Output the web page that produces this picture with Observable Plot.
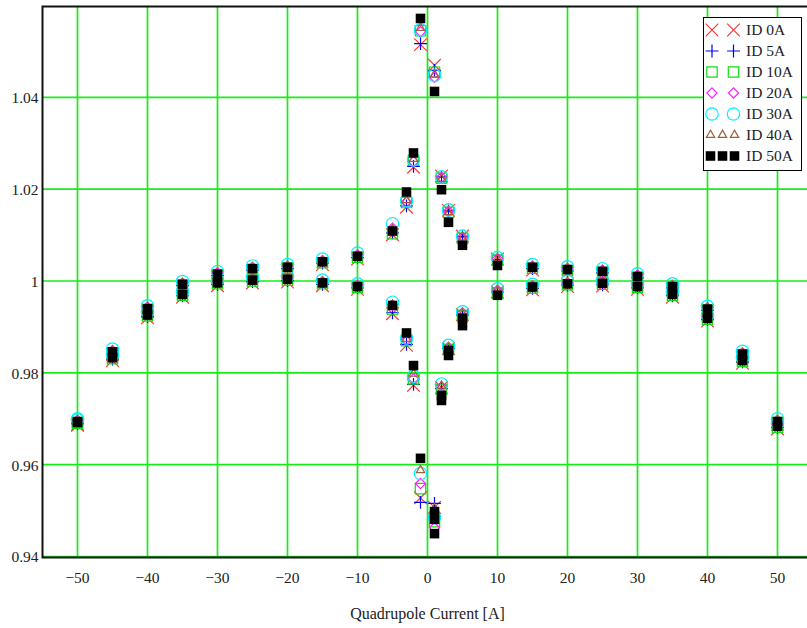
<!DOCTYPE html>
<html>
<head>
<meta charset="utf-8">
<script src="https://cdn.jsdelivr.net/npm/d3@7"></script>
<script src="https://cdn.jsdelivr.net/npm/@observablehq/plot@0.6"></script>
<style>
  html, body { margin: 0; padding: 0; background: #fff; overflow: hidden; }
  #chart { position: relative; width: 807px; height: 628px; overflow: hidden; }
  #chart > svg { max-width: none !important; display: block; }
  #legend { position: absolute; left: 703px; top: 17px; width: 99px; height: 154px; box-sizing: border-box;
            border: 1px solid #000; background: #fff; }
</style>
</head>
<body>
<div id="chart"></div>
<script>
// Quadrupole current settings [A]
const current = [-50, -45, -40, -35, -30, -25, -20, -15, -10, -5, -3, -2, -1, 1, 2, 3, 5, 10, 15, 20, 25, 30, 35, 40, 45, 50];

// Relative values, upper and lower branch, for each ID setting
const upper0A  = [0.9690,0.9842,0.9936,0.9989,1.0011,1.0023,1.0026,1.0038,1.0050,1.0103,1.0163,1.0250,1.0517,1.0472,1.0231,1.0156,1.0100,1.0050,1.0026,1.0021,1.0017,1.0006,0.9984,0.9935,0.9837,0.9690];
const lower0A  = [0.9688,0.9829,0.9922,0.9967,0.9992,0.9998,1.0000,0.9992,0.9984,0.9931,0.9862,0.9775,0.9530,0.9509,0.9770,0.9855,0.9929,0.9978,0.9983,0.9990,0.9991,0.9984,0.9967,0.9915,0.9823,0.9680];
const upper5A  = [0.9693,0.9845,0.9939,0.9992,1.0014,1.0026,1.0029,1.0041,1.0053,1.0107,1.0166,1.0252,1.0519,1.0461,1.0229,1.0155,1.0099,1.0049,1.0029,1.0024,1.0020,1.0009,0.9987,0.9938,0.9840,0.9693];
const lower5A  = [0.9691,0.9832,0.9925,0.9970,0.9995,1.0001,1.0003,0.9995,0.9987,0.9933,0.9864,0.9777,0.9520,0.9518,0.9768,0.9855,0.9928,0.9978,0.9986,0.9993,0.9994,0.9987,0.9970,0.9918,0.9826,0.9683];
const upper10A = [0.9694,0.9846,0.9940,0.9993,1.0015,1.0027,1.0030,1.0042,1.0054,1.0105,1.0173,1.0265,1.0547,1.0457,1.0226,1.0152,1.0095,1.0048,1.0030,1.0025,1.0021,1.0010,0.9988,0.9939,0.9841,0.9694];
const lower10A = [0.9692,0.9833,0.9926,0.9971,0.9996,1.0002,1.0004,0.9996,0.9988,0.9940,0.9872,0.9789,0.9550,0.9478,0.9766,0.9853,0.9927,0.9976,0.9987,0.9994,0.9995,0.9988,0.9971,0.9919,0.9827,0.9684];
const upper20A = [0.9699,0.9851,0.9945,0.9998,1.0020,1.0032,1.0035,1.0047,1.0059,1.0117,1.0174,1.0262,1.0545,1.0446,1.0228,1.0154,1.0098,1.0051,1.0035,1.0030,1.0026,1.0015,0.9993,0.9944,0.9846,0.9699];
const lower20A = [0.9697,0.9838,0.9931,0.9976,1.0001,1.0007,1.0009,1.0001,0.9993,0.9950,0.9873,0.9789,0.9561,0.9465,0.9772,0.9858,0.9933,0.9982,0.9992,0.9999,1.0000,0.9993,0.9976,0.9924,0.9832,0.9689];
const upper30A = [0.9702,0.9854,0.9948,1.0001,1.0023,1.0035,1.0038,1.0050,1.0063,1.0127,1.0177,1.0266,1.0549,1.0450,1.0229,1.0157,1.0100,1.0053,1.0038,1.0033,1.0029,1.0018,0.9996,0.9947,0.9849,0.9702];
const lower30A = [0.9700,0.9841,0.9934,0.9979,1.0004,1.0010,1.0012,1.0004,0.9996,0.9956,0.9878,0.9795,0.9583,0.9487,0.9778,0.9862,0.9935,0.9985,0.9995,1.0002,1.0003,0.9996,0.9979,0.9927,0.9835,0.9692];
const upper40A = [0.9698,0.9850,0.9944,0.9997,1.0019,1.0031,1.0034,1.0046,1.0058,1.0115,1.0178,1.0268,1.0553,1.0452,1.0224,1.0152,1.0097,1.0050,1.0034,1.0029,1.0025,1.0014,0.9992,0.9943,0.9845,0.9698];
const lower40A = [0.9696,0.9837,0.9930,0.9975,1.0000,1.0006,1.0008,1.0000,0.9992,0.9950,0.9876,0.9800,0.9590,0.9507,0.9774,0.9857,0.9931,0.9981,0.9991,0.9998,0.9999,0.9992,0.9975,0.9923,0.9831,0.9688];
const upper50A = [0.9696,0.9848,0.9942,0.9995,1.0017,1.0029,1.0032,1.0044,1.0056,1.0111,1.0196,1.0281,1.0574,1.0415,1.0201,1.0130,1.0080,1.0036,1.0032,1.0027,1.0023,1.0012,0.9990,0.9941,0.9843,0.9696];
const lower50A = [0.9694,0.9835,0.9928,0.9973,0.9998,1.0004,1.0006,0.9998,0.9990,0.9949,0.9889,0.9818,0.9616,0.9452,0.9742,0.9840,0.9905,0.9971,0.9989,0.9996,0.9997,0.9990,0.9973,0.9921,0.9829,0.9686];
// Repeated readings at ID 50A
const repeat50ACurrent = [1, 1, 2, 3, 5];
const repeat50AValue   = [0.9500, 0.9483, 0.9753, 0.9851, 0.9921];

// Series labels and axis ticks
const seriesLabels = ["ID 0A", "ID 5A", "ID 10A", "ID 20A", "ID 30A", "ID 40A", "ID 50A"];
const xTicks = [-50, -40, -30, -20, -10, 0, 10, 20, 30, 40, 50];
const xTickLabels = ["\u221250", "\u221240", "\u221230", "\u221220", "\u221210", "0", "10", "20", "30", "40", "50"];
const yTicks = [0.94, 0.96, 0.98, 1, 1.02, 1.04];
const yTickLabels = ["0.94", "0.96", "0.98", "1", "1.02", "1.04"];
const xLabel = "Quadrupole Current [A]";

// Marker styles per series
const styles = [
  {symbol: "times",     r: 5.8, stroke: "#ff3535", fill: "none", legendCount: 2},
  {symbol: "plus",      r: 4.2, stroke: "#0000ff", fill: "none", legendCount: 2},
  {symbol: "square2",   r: 6.6, stroke: "#10dd10", fill: "none", legendCount: 2},
  {symbol: "diamond2",  r: 4.6, stroke: "#ff20ff", fill: "none", legendCount: 2},
  {symbol: "circle",    r: 6.2, stroke: "#00f0ff", fill: "none", legendCount: 2},
  {symbol: "triangle2", r: 4.0, stroke: "#a0603c", fill: "none", legendCount: 3},
  {symbol: "square",    r: 5.4, stroke: "none",    fill: "#000000", legendCount: 3}
];

const branches = [[upper0A, lower0A], [upper5A, lower5A], [upper10A, lower10A], [upper20A, lower20A],
                  [upper30A, lower30A], [upper40A, lower40A], [upper50A, lower50A]];

const seriesRows = branches.map(([up, lo], i) => {
  const rows = [];
  current.forEach((c, j) => {
    rows.push({series: seriesLabels[i], current: c, value: up[j]});
    rows.push({series: seriesLabels[i], current: c, value: lo[j]});
  });
  if (i === 6) repeat50ACurrent.forEach((c, j) => rows.push({series: seriesLabels[i], current: c, value: repeat50AValue[j]}));
  return rows;
});

const gridColor = "#14ee14";

const plot = Plot.plot({
  width: 812,
  height: 628,
  marginLeft: 42,
  marginRight: 0,
  marginTop: 6,
  marginBottom: 71,
  style: {fontFamily: "'Liberation Serif', 'Times New Roman', serif", fontSize: "15px", background: "#fff", color: "#222", maxWidth: "none"},
  x: {domain: [-55, 55], label: null},
  y: {domain: [0.94, 1.06], label: null},
  marks: [
    Plot.gridX(xTicks, {stroke: gridColor, strokeOpacity: 1, strokeWidth: 1.7}),
    Plot.gridY(yTicks, {stroke: gridColor, strokeOpacity: 1, strokeWidth: 1.7, dy: -1}),
    Plot.frame({stroke: "#111", strokeWidth: 2}),
    ...seriesRows.map((rows, i) => Plot.dot(rows, {
      x: "current", y: "value",
      symbol: styles[i].symbol, r: styles[i].r,
      stroke: styles[i].stroke, fill: styles[i].fill, strokeWidth: 1.2
    })),
    Plot.axisX(xTicks, {tickSize: 0, tickPadding: 14, fontSize: 15.5,
      tickFormat: (d) => xTickLabels[xTicks.indexOf(d)]}),
    Plot.axisY(yTicks, {tickSize: 0, tickPadding: 4, fontSize: 15.5,
      tickFormat: (d) => yTickLabels[yTicks.indexOf(d)]}),
    Plot.text([xLabel], {frameAnchor: "bottom", dy: 61, text: (d) => d, fontSize: 16})
  ]
});

const chart = document.getElementById("chart");
chart.appendChild(plot);

// Legend box
const legend = d3.select(chart).append("div").attr("id", "legend");
const lsvg = legend.append("svg").attr("width", 97).attr("height", 152)
  .style("font-family", "'Liberation Serif', 'Times New Roman', serif").style("font-size", "15.5px");
const symbolMap = {
  times: d3.symbolTimes, plus: d3.symbolPlus, square2: d3.symbolSquare2,
  diamond2: d3.symbolDiamond2, circle: d3.symbolCircle, triangle2: d3.symbolTriangle2, square: d3.symbolSquare
};
seriesLabels.forEach((label, i) => {
  const st = styles[i];
  const cy = 12 + 21 * i;
  const xs = st.legendCount === 2 ? [8, 29.5] : [6.5, 18.5, 30.5];
  const path = d3.symbol(symbolMap[st.symbol], Math.PI * st.r * st.r)();
  xs.forEach((cx) => {
    lsvg.append("path").attr("d", path).attr("transform", `translate(${cx},${cy})`)
      .attr("fill", st.fill).attr("stroke", st.stroke).attr("stroke-width", 1.2);
  });
  lsvg.append("text").attr("x", 42).attr("y", cy).attr("dy", "0.35em").attr("fill", "#222").text(label);
});
</script>
</body>
</html>
